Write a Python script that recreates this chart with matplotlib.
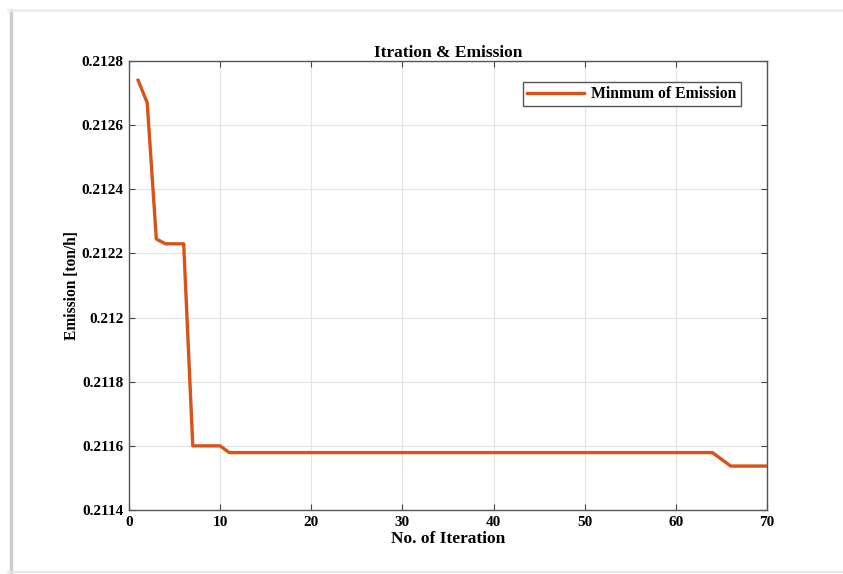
import numpy as np
import matplotlib.pyplot as plt
from matplotlib.lines import Line2D

plt.rcParams['font.family'] = ['Liberation Serif', 'DejaVu Serif']
plt.rcParams['font.weight'] = 'bold'

# minimum emission per iteration
iterations = np.arange(1, 71)
emission = [0.21274, 0.21267, 0.212245, 0.21223, 0.21223, 0.21223,
            0.21160, 0.21160, 0.21160, 0.21160] + [0.211579] * 54 + \
           [0.211558] + [0.211537] * 5

yticks = [0.2114, 0.2116, 0.2118, 0.2120, 0.2122, 0.2124, 0.2126, 0.2128]
xticks = [0, 10, 20, 30, 40, 50, 60, 70]

fig = plt.figure(figsize=(8.43, 5.74), dpi=100)

# page edges (soft shadow, like a pasted screenshot)
fig.lines.append(Line2D([0.013, 0.013], [0.003, 0.983], transform=fig.transFigure,
                        color='#cdcdcd', linewidth=2.5))
fig.lines.append(Line2D([0.010, 1.0], [0.983, 0.983], transform=fig.transFigure,
                        color='#ececec', linewidth=2.0))
fig.lines.append(Line2D([0.010, 1.0], [0.004, 0.004], transform=fig.transFigure,
                        color='#e6e6e6', linewidth=1.5))

ax = fig.add_axes([0.153, 0.1115, 0.757, 0.7822])
ax.plot(iterations, emission, color='#D95319', linewidth=2.4, label='Minmum of Emission')

ax.set_xlim(0, 70)
ax.set_ylim(0.2114, 0.2128)
ax.set_xticks(xticks)
ax.set_yticks(yticks)
ax.set_yticklabels(['%g' % v for v in yticks])
ax.tick_params(direction='in', top=True, right=True, labelsize=11, length=4,
               color='#444444', pad=4)
for s in ax.spines.values():
    s.set_color('#555555')
    s.set_linewidth(1.0)
ax.grid(True, color='#e3e3e3', linewidth=0.8)

ax.set_title('Itration & Emission', fontsize=12.5, fontweight='bold', pad=3)
ax.set_xlabel('No. of Iteration', fontsize=12.5, fontweight='bold', labelpad=2)
ax.set_ylabel('Emission [ton/h]', fontsize=11.2, fontweight='bold', labelpad=1)

leg = ax.legend(loc='upper right', bbox_to_anchor=(0.971, 0.97), fontsize=11.3,
                fancybox=False, framealpha=1, edgecolor='#555555',
                handlelength=3.6, borderpad=0.25, handletextpad=0.5)
leg.get_frame().set_linewidth(1.0)

fig.savefig('out.png', dpi=100)
